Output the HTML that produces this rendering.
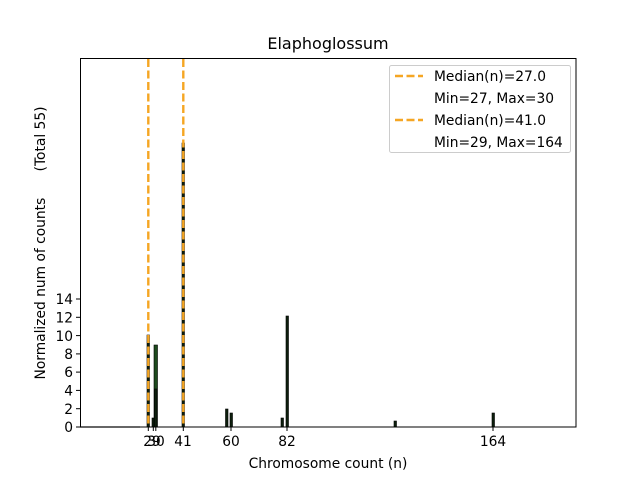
<!DOCTYPE html>
<html><head><style>body{margin:0;background:#fff}svg{display:block}</style></head><body>
<svg width="640" height="480" xmlns="http://www.w3.org/2000/svg" font-family="DejaVu Sans, Liberation Sans, sans-serif" font-size="13.8">
<rect width="640" height="480" fill="#fff"/>
<text x="328" y="49" text-anchor="middle" font-size="16">Elaphoglossum</text>
<line x1="80" y1="427" x2="140" y2="427" stroke="#999" stroke-width="1.5"/>
<g fill="#0d200d" stroke="#000" stroke-width="0.6">
<rect x="147" y="335" width="2.5" height="92"/>
<rect x="152" y="418" width="2.5" height="9"/>
<rect x="154" y="345" width="3.5" height="82" fill="#1d4a1d"/>
<rect x="154.5" y="389" width="2.5" height="38"/>
<rect x="182" y="143" width="2.5" height="284"/>
<rect x="225.5" y="409" width="2.5" height="18"/>
<rect x="230" y="413" width="2.5" height="14"/>
<rect x="281" y="418" width="2.5" height="9"/>
<rect x="286" y="316" width="2.5" height="111"/>
<rect x="394" y="421" width="2.5" height="6"/>
<rect x="492" y="413" width="2.5" height="14"/>
</g>
<line x1="148.3" y1="59" x2="148.3" y2="427" stroke="#f5a623" stroke-width="2.4" stroke-dasharray="8,3.5"/>
<line x1="183.3" y1="59" x2="183.3" y2="427" stroke="#f5a623" stroke-width="2.4" stroke-dasharray="8,3.5"/>
<rect x="80.5" y="58.5" width="495.5" height="368.5" fill="none" stroke="#000" stroke-width="1"/>
<g stroke="#000">
<line x1="76" x2="80" y1="427" y2="427"/><line x1="76" x2="80" y1="408.7" y2="408.7"/><line x1="76" x2="80" y1="390.4" y2="390.4"/><line x1="76" x2="80" y1="372.1" y2="372.1"/><line x1="76" x2="80" y1="353.9" y2="353.9"/><line x1="76" x2="80" y1="335.6" y2="335.6"/><line x1="76" x2="80" y1="317.3" y2="317.3"/><line x1="76" x2="80" y1="299" y2="299"/>
<line x1="148.3" x2="148.3" y1="427" y2="431"/><line x1="153.3" x2="153.3" y1="427" y2="431"/><line x1="155.8" x2="155.8" y1="427" y2="431"/><line x1="183.3" x2="183.3" y1="427" y2="431"/><line x1="231" x2="231" y1="427" y2="431"/><line x1="287" x2="287" y1="427" y2="431"/><line x1="493" x2="493" y1="427" y2="431"/>
</g>
<g text-anchor="end">
<text x="73" y="432">0</text><text x="73" y="414">2</text><text x="73" y="395.5">4</text><text x="73" y="377">6</text><text x="73" y="359">8</text><text x="73" y="341">10</text><text x="73" y="322.5">12</text><text x="73" y="304">14</text>
</g>
<g text-anchor="middle">
<text x="152" y="446">29</text><text x="156" y="446">30</text><text x="183" y="446">41</text><text x="231" y="446">60</text><text x="287" y="446">82</text><text x="493" y="446">164</text>
<text x="328" y="468">Chromosome count (n)</text>
</g>
<text transform="translate(45,243) rotate(-90)" text-anchor="middle" xml:space="preserve">Normalized num of counts      (Total 55)</text>
<rect x="389.5" y="65.5" width="181" height="87" rx="2" fill="#fff" fill-opacity="0.8" stroke="#ccc"/>
<line x1="395" y1="76" x2="423" y2="76" stroke="#f5a623" stroke-width="2.4" stroke-dasharray="8,3.5"/>
<line x1="395" y1="120" x2="423" y2="120" stroke="#f5a623" stroke-width="2.4" stroke-dasharray="8,3.5"/>
<text x="434" y="81">Median(n)=27.0</text>
<text x="434" y="103">Min=27, Max=30</text>
<text x="434" y="125">Median(n)=41.0</text>
<text x="434" y="147">Min=29, Max=164</text>
</svg>
</body></html>
